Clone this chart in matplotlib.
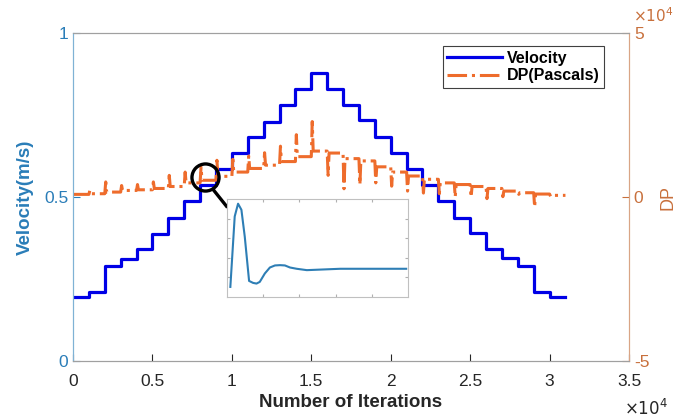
import matplotlib
matplotlib.use("Agg")
import matplotlib.pyplot as plt
import numpy as np

plt.rcParams['font.family'] = ['Liberation Sans', 'DejaVu Sans']

# ---------------- data ----------------
# start iteration of each velocity step
seg_start = [0, 1000, 2000, 3000, 4000, 5000, 6000, 7000, 8000, 9000,
             10000, 11000, 12000, 13000, 14000, 15000, 16000, 17000, 18000, 19000,
             20000, 21000, 22000, 23000, 24000, 25000, 26000, 27000, 28000, 29000,
             30000]
seg_last_end = 31000

velocity = [0.196, 0.21, 0.29, 0.31, 0.34, 0.387, 0.437, 0.489, 0.537, 0.585,
            0.633, 0.682, 0.73, 0.78, 0.828, 0.877, 0.828, 0.78, 0.735, 0.682,
            0.633, 0.585, 0.537, 0.489, 0.437, 0.389, 0.34, 0.313, 0.29, 0.21,
            0.194]

# steady pressure drop within each step (Pa)
dp_level = [800, 1000, 1500, 2000, 2200, 2600, 3200, 4300, 5100, 6300,
            7600, 8700, 9700, 10800, 12300, 14000, 13400, 11700, 11000, 9200,
            7600, 6400, 5400, 4300, 3800, 3200, 2600, 1800, 1300, 900,
            500]
# transient peak of pressure drop at the start of each step (Pa)
dp_spike = [800, 2000, 4600, 3500, 3800, 4600, 6600, 7600, 9100, 11200,
            11500, 12500, 13500, 15500, 19000, 23000, 6600, 2500, 3800, 4300,
            3300, 1800, 1200, 1000, 0, 0, -500, 100, 800, -3000,
            200]

# inset: transient response after a step
inset_t = [1.85, 4.26, 6.11, 7.96, 9.81, 12.2, 14.4, 16.3, 18.1, 20.9, 23.7,
           26.5, 29.3, 32.0, 34.8, 38.5, 44.1, 53.3, 62.6, 75.0, 87.0, 99.0]
inset_v = [0.103, 0.822, 0.952, 0.890, 0.616, 0.164, 0.144, 0.137, 0.154, 0.240,
           0.301, 0.322, 0.325, 0.322, 0.301, 0.288, 0.274, 0.281, 0.288, 0.288,
           0.288, 0.288]

x_ticks = [0, 5000, 10000, 15000, 20000, 25000, 30000, 35000]
x_ticklabels = ['0', '0.5', '1', '1.5', '2', '2.5', '3', '3.5']
vel_ticks = [0, 0.5, 1]
vel_ticklabels = ['0', '0.5', '1']
dp_ticks = [-50000, 0, 50000]
dp_ticklabels = ['-5', '0', '5']

# ---------------- styles ----------------
C_VEL = '#0000E6'
C_DP = '#EE6C2C'
C_LEFT = '#2A7DB8'
C_RIGHT = '#C8703C'
SPIKE_W = 60

fig = plt.figure(figsize=(6.76, 4.19), dpi=100)
ax = fig.add_axes([73/676, 1-361/419, (629-73)/676, (361-33)/419])
ax2 = ax.twinx()

# velocity steps
vx = seg_start + [seg_last_end]
vy = velocity + [velocity[-1]]
l1, = ax.step(vx, vy, where='post', color=C_VEL, lw=2.3, label='Velocity')

# pressure-drop series with transient spikes
px, py = [seg_start[0]], [dp_level[0]]
for k in range(1, len(seg_start)):
    s = seg_start[k]
    px += [s, s + SPIKE_W, s + 2*SPIKE_W]
    py += [dp_level[k-1], dp_spike[k], dp_level[k]]
px.append(seg_last_end)
py.append(dp_level[-1])
l2, = ax2.plot(px, py, color=C_DP, lw=2.2, ls='-.', label='DP(Pascals)')

ax.set_xlim(0, 35000)
ax.set_ylim(0, 1)
ax2.set_ylim(-50000, 50000)

ax.set_xticks(x_ticks)
ax.set_xticklabels(x_ticklabels)
ax.set_yticks(vel_ticks)
ax.set_yticklabels(vel_ticklabels)
ax2.set_yticks(dp_ticks)
ax2.set_yticklabels(dp_ticklabels)

ax.tick_params(axis='x', direction='in', length=5, labelsize=12.5, colors='#262626', pad=9)
ax.tick_params(axis='y', direction='in', length=5, labelsize=12.5, colors=C_LEFT)
ax2.tick_params(axis='y', direction='in', length=5, labelsize=12.5, colors=C_RIGHT)

for a in (ax, ax2):
    a.spines['top'].set_color('#A0A0A0')
    a.spines['bottom'].set_color('#A0A0A0')
    a.spines['left'].set_color('#7FB2D5')
    a.spines['right'].set_color('#D9A585')

ax.set_xlabel('Number of Iterations', fontsize=13.5, fontweight='bold', color='#262626', labelpad=4)
ax.set_ylabel('Velocity(m/s)', fontsize=13.5, fontweight='bold', color=C_LEFT)
ax.yaxis.set_label_coords(-0.07, 0.5)
ax2.set_ylabel('DP', fontsize=13, color=C_RIGHT)
ax2.yaxis.set_label_coords(1.055, 0.5)

fig.text(633/676, 1-16/419, r'$\times10^4$', fontsize=11, color=C_RIGHT, ha='left', va='center')
fig.text(646/676, 1-408/419, r'$\times10^4$', fontsize=12, color='#262626', ha='center', va='center')

leg = ax2.legend(handles=[l1, l2], loc='upper right', bbox_to_anchor=(0.955, 0.96),
                 prop={'weight': 'bold', 'size': 11.5}, handlelength=3.4,
                 fancybox=False, framealpha=1, edgecolor='#404040', borderpad=0.3,
                 labelspacing=0.15, handletextpad=0.3, borderaxespad=0)
leg.get_frame().set_linewidth(0.8)

# magnifier glyph (annotation)
ax2.plot([8300], [0.561], marker='o', ms=19.5, mfc='none', mec='black', mew=2.4,
         transform=ax.transData, clip_on=False, zorder=5)
ax2.plot([8818, 9660], [0.523, 0.472], color='black', lw=2.4,
         transform=ax.transData, clip_on=False, zorder=5)

# inset
axi = fig.add_axes([227/676, 1-297/419, (408-227)/676, (297-199)/419])
axi.plot(inset_t, inset_v, color='#2E7EB5', lw=1.5)
axi.set_xlim(0, 100)
axi.set_ylim(0, 1)
axi.set_xticks([20, 40, 60, 80])
axi.set_yticks([0.2, 0.4, 0.6, 0.8])
axi.tick_params(direction='in', length=2, top=True, right=True, labelbottom=False,
                labelleft=False, colors='#B0B0B0')
for sp in axi.spines.values():
    sp.set_color('#C0C0C0')
    sp.set_linewidth(0.8)

fig.savefig('out.png', dpi=100, facecolor='white')
